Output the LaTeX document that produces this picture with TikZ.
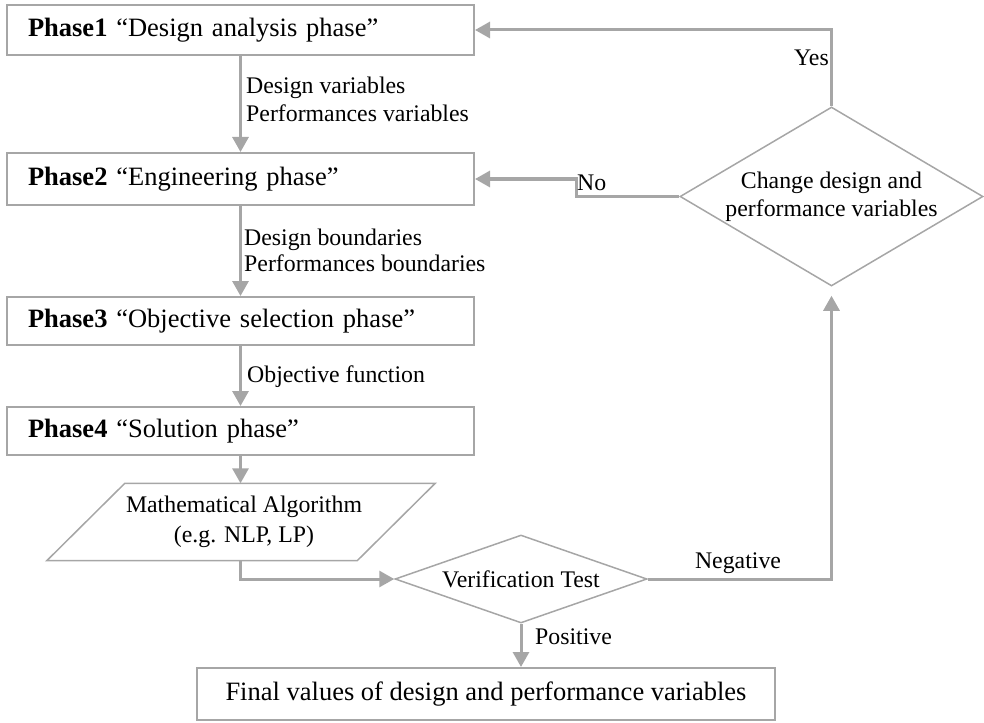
\documentclass[tikz,border=0pt]{standalone}
\usepackage{fontspec}
\setmainfont{Liberation Serif}
\usetikzlibrary{arrows.meta,shapes.geometric}
\definecolor{lg}{HTML}{A6A6A6}
\tikzset{
 phasebox/.style={draw=lg, line width=2pt, rectangle, minimum width=467pt, inner xsep=21pt, inner ysep=0pt, text width=425pt, align=left, font=\fontsize{26.5}{30}\selectfont},
 finbox/.style={draw=lg, line width=2pt, rectangle, inner sep=0pt, align=center, font=\fontsize{26.5}{30}\selectfont},
 arr/.style={draw=lg, line width=3pt, -{Triangle[length=15pt,width=16pt]}},
 lbl/.style={font=\fontsize{23.8}{28}\selectfont, inner sep=0pt, align=left},
 decision/.style={diamond, draw=lg, line width=1.5pt, inner sep=0pt, align=center, font=\fontsize{23.8}{29}\selectfont},
 thinline/.style={draw=lg, line width=1.5pt},
}
\begin{document}
\begin{tikzpicture}[x=1pt,y=-1pt]
\useasboundingbox (0,0) rectangle (984,722);
% phase boxes
\node[phasebox, minimum height=50pt] (p1) at (240.5,30) {\textbf{Phase1} “Design analysis phase”};
\node[phasebox, minimum height=52pt] (p2) at (240.5,179) {\textbf{Phase2} “Engineering phase”};
\node[phasebox, minimum height=48pt] (p3) at (240.5,321) {\textbf{Phase3} “Objective selection phase”};
\node[phasebox, minimum height=48pt] (p4) at (240.5,431) {\textbf{Phase4} “Solution phase”};
% algorithm (parallelogram)
\node[lbl, align=center, font=\fontsize{23.8}{30}\selectfont, minimum width=310pt, minimum height=77pt] (alg) at (244,522) {Mathematical Algorithm\\(e.g. NLP, LP)};
\draw[thinline] ([xshift=36pt]alg.north west) -- ([xshift=36pt]alg.north east) -- ([xshift=-42pt]alg.south east) -- ([xshift=-42pt]alg.south west) -- cycle;
% decisions
\node[decision, minimum width=252pt, minimum height=88pt, aspect=2.864] (ver) at (521,579) {Verification Test};
\node[decision, minimum width=303pt, minimum height=179pt, aspect=1.7, font=\fontsize{23.8}{28}\selectfont] (chg) at (831.5,196.5) {Change design and\\performance variables};
% final box
\node[finbox, minimum width=578pt, minimum height=52pt] (fin) at (486,694) {Final values of design and performance variables};
% connectors
\draw[arr] (p1) -- (p2);
\draw[arr] (p2) -- (p3);
\draw[arr] (p3) -- (p4);
\draw[arr] (p4.south) -- (p4.south |- alg.north);
\draw[arr] (p4.south |- alg.south) |- (ver.west);
\draw[arr] (ver.south) -- (ver.south |- fin.north);
\draw[arr, shorten >=9pt] (ver.east) -| (chg.south);
\draw[arr] (chg.north) |- (p1.east);
\draw[arr] (chg.west) -- ++(-103,0) |- (p2.east);
% labels
\node[lbl, anchor=west] (l1) at (246,99) {Design variables\\Performances variables};
\node[lbl, anchor=west, font=\fontsize{23.8}{26}\selectfont] (l2) at (244,250) {Design boundaries\\Performances boundaries};
\node[lbl, anchor=west] (l3) at (247,377) {Objective function};
\node[lbl, anchor=east] (yes) at (829,58) {Yes};
\node[lbl, anchor=west] (no) at (577,183) {No};
\node[lbl] (neg) at (738,563) {Negative};
\node[lbl, anchor=west] (pos) at (535,637) {Positive};
\end{tikzpicture}
\end{document}
